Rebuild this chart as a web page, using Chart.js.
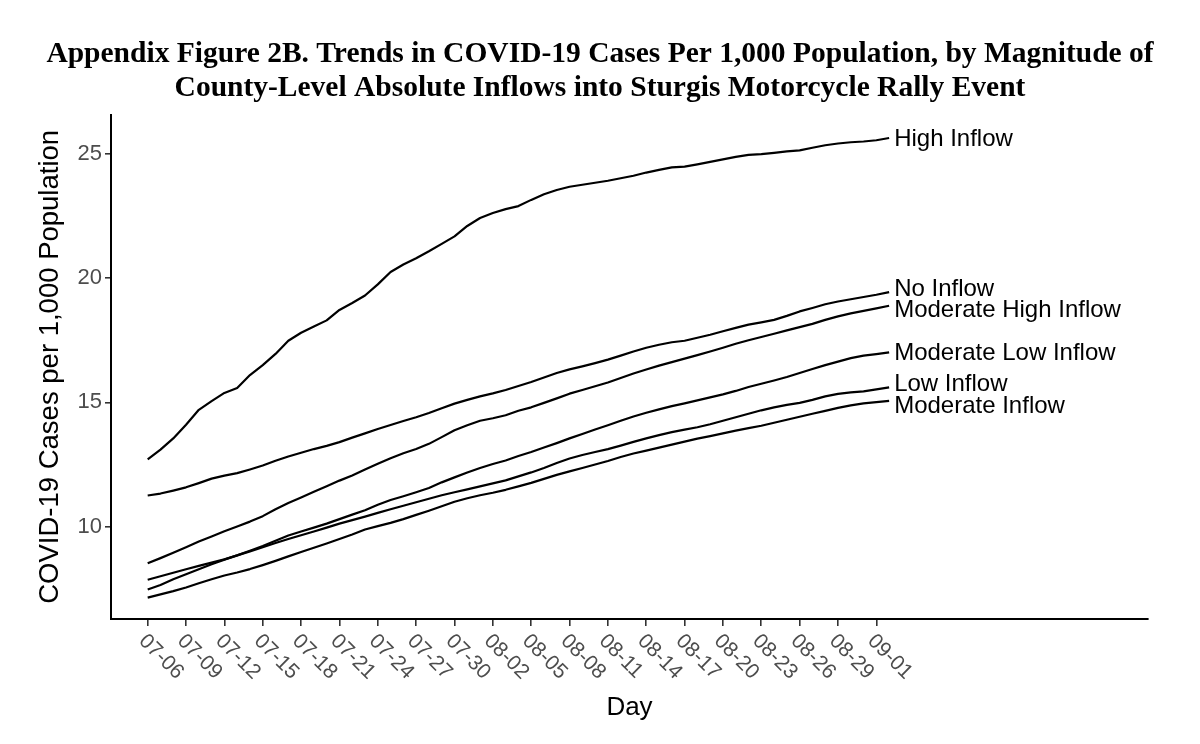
<!DOCTYPE html>
<html><head><meta charset="utf-8">
<script src="https://cdn.jsdelivr.net/npm/chart.js@4.4.1/dist/chart.umd.min.js"></script>
<style>html,body{margin:0;padding:0;background:#fff;}canvas{display:block;}</style>
</head><body>
<canvas id="c" width="1200" height="744"></canvas>
<script>
const days = ["07-06","07-07","07-08","07-09","07-10","07-11","07-12","07-13","07-14","07-15","07-16","07-17","07-18","07-19","07-20","07-21","07-22","07-23","07-24","07-25","07-26","07-27","07-28","07-29","07-30","07-31",
"08-01","08-02","08-03","08-04","08-05","08-06","08-07","08-08","08-09","08-10","08-11","08-12","08-13","08-14","08-15","08-16","08-17","08-18","08-19","08-20","08-21","08-22","08-23","08-24","08-25","08-26","08-27","08-28","08-29","08-30","08-31",
"09-01","09-02"];
const tickLabels = ["07-06","07-09","07-12","07-15","07-18","07-21","07-24","07-27","07-30","08-02","08-05","08-08","08-11","08-14","08-17","08-20","08-23","08-26","08-29","09-01"];
const yTicks = [10, 15, 20, 25];
const seriesNames = ["High Inflow","No Inflow","Moderate High Inflow","Moderate Low Inflow","Low Inflow","Moderate Inflow"];

const highInflow = [12.71,13.10,13.55,14.10,14.70,15.05,15.38,15.58,16.10,16.50,16.95,17.48,17.80,18.05,18.30,18.72,19.00,19.30,19.75,20.25,20.55,20.80,21.08,21.38,21.68,22.10,22.42,22.62,22.78,22.90,23.15,23.38,23.55,23.68,23.76,23.84,23.92,24.02,24.12,24.25,24.36,24.46,24.49,24.58,24.68,24.78,24.88,24.96,24.99,25.04,25.10,25.14,25.25,25.35,25.42,25.47,25.50,25.55,25.64];
const noInflow = [11.25,11.33,11.45,11.58,11.75,11.93,12.05,12.15,12.30,12.46,12.65,12.82,12.97,13.12,13.25,13.40,13.58,13.75,13.93,14.09,14.25,14.40,14.57,14.76,14.95,15.10,15.24,15.36,15.50,15.66,15.82,16.00,16.18,16.33,16.45,16.58,16.72,16.88,17.05,17.20,17.32,17.42,17.48,17.60,17.72,17.86,18.00,18.13,18.22,18.32,18.48,18.66,18.80,18.95,19.06,19.15,19.24,19.33,19.44];
const moderateHighInflow = [8.52,8.73,8.95,9.17,9.40,9.60,9.81,10.00,10.20,10.42,10.70,10.95,11.17,11.40,11.62,11.85,12.06,12.30,12.53,12.75,12.95,13.12,13.33,13.60,13.88,14.08,14.26,14.36,14.48,14.66,14.80,14.98,15.16,15.35,15.50,15.65,15.80,15.98,16.16,16.32,16.48,16.62,16.76,16.90,17.05,17.20,17.36,17.50,17.63,17.76,17.90,18.03,18.16,18.32,18.46,18.58,18.68,18.78,18.89];
const moderateLowInflow = [7.47,7.65,7.88,8.08,8.28,8.48,8.67,8.84,9.03,9.22,9.43,9.64,9.80,9.96,10.12,10.30,10.48,10.66,10.88,11.07,11.22,11.38,11.55,11.78,11.98,12.18,12.36,12.52,12.66,12.84,13.00,13.18,13.36,13.55,13.73,13.91,14.08,14.26,14.43,14.58,14.72,14.85,14.96,15.08,15.20,15.32,15.46,15.62,15.75,15.88,16.02,16.18,16.34,16.50,16.64,16.78,16.88,16.94,17.01];
const lowInflow = [7.86,8.00,8.14,8.28,8.42,8.55,8.68,8.84,9.00,9.17,9.34,9.50,9.65,9.80,9.96,10.12,10.26,10.40,10.55,10.70,10.84,10.98,11.12,11.26,11.38,11.50,11.62,11.74,11.86,12.02,12.18,12.36,12.56,12.74,12.88,13.00,13.12,13.26,13.41,13.55,13.68,13.80,13.90,14.00,14.12,14.26,14.40,14.54,14.68,14.80,14.90,14.98,15.10,15.24,15.34,15.40,15.44,15.52,15.60];
const moderateInflow = [7.14,7.27,7.40,7.55,7.72,7.88,8.03,8.15,8.29,8.45,8.62,8.80,8.98,9.15,9.32,9.50,9.68,9.88,10.02,10.15,10.30,10.47,10.64,10.82,11.00,11.14,11.26,11.36,11.48,11.62,11.76,11.92,12.08,12.22,12.36,12.50,12.64,12.80,12.94,13.06,13.18,13.30,13.42,13.54,13.64,13.75,13.86,13.96,14.06,14.18,14.30,14.42,14.54,14.66,14.78,14.88,14.96,15.01,15.06];

const seriesValues = [highInflow, noInflow, moderateHighInflow, moderateLowInflow, lowInflow, moderateInflow];

const SANS = '"Liberation Sans", Arial, Helvetica, sans-serif';

const centerTitlePlugin = {
  id: 'centerTitle',
  afterLayout(chart) {
    const t = chart.titleBlock;
    if (t) { t.left = 0; t.right = chart.width; t.width = chart.width; }
  }
};

const xLabelPlugin = {
  id: 'xLabels',
  afterDraw(chart) {
    const xs = chart.scales.x, ctx = chart.ctx;
    ctx.save();
    ctx.font = '21px ' + SANS;
    ctx.fillStyle = '#4d4d4d';
    ctx.textAlign = 'left';
    ctx.textBaseline = 'middle';
    tickLabels.forEach(l => {
      const px = xs.getPixelForValue(days.indexOf(l));
      ctx.save();
      ctx.translate(px - 5.5, xs.top + 19);
      ctx.rotate(Math.PI / 4);
      ctx.fillText(l, 0, 0);
      ctx.restore();
    });
    ctx.restore();
  }
};

const endLabelPlugin = {
  id: 'endLabels',
  afterDatasetsDraw(chart) {
    const ctx = chart.ctx, xs = chart.scales.x, ys = chart.scales.y;
    const items = chart.data.datasets.map(ds => {
      const last = ds.data[ds.data.length - 1];
      return { text: ds.label, x: xs.getPixelForValue(last.x), y: ys.getPixelForValue(last.y) };
    }).sort((a, b) => a.y - b.y);
    const gap = 21.5;
    for (let iter = 0; iter < 30; iter++) {
      for (let i = 1; i < items.length; i++) {
        const d = items[i].y - items[i - 1].y;
        if (d < gap) { const s = (gap - d) / 2; items[i - 1].y -= s; items[i].y += s; }
      }
    }
    ctx.save();
    ctx.font = '24px ' + SANS;
    ctx.fillStyle = '#000';
    ctx.textAlign = 'left';
    ctx.textBaseline = 'middle';
    items.forEach(it => ctx.fillText(it.text, it.x + 5, it.y + 1));
    ctx.restore();
  }
};

new Chart(document.getElementById('c'), {
  type: 'line',
  data: {
    datasets: seriesNames.map((n, i) => ({
      label: n,
      data: seriesValues[i].map((v, j) => ({ x: j, y: v })),
      borderColor: '#000',
      borderWidth: 2.2,
      pointRadius: 0,
      fill: false,
      tension: 0,
      borderJoinStyle: 'round',
      borderCapStyle: 'butt'
    }))
  },
  plugins: [centerTitlePlugin, xLabelPlugin, endLabelPlugin],
  options: {
    responsive: false,
    animation: false,
    events: [],
    layout: { padding: { left: 0, right: 52, top: 0, bottom: 0 } },
    plugins: {
      legend: { display: false },
      tooltip: { enabled: false },
      title: {
        display: true,
        text: ["Appendix Figure 2B. Trends in COVID-19 Cases Per 1,000 Population, by Magnitude of",
               "County-Level Absolute Inflows into Sturgis Motorcycle Rally Event"],
        font: { family: '"Liberation Serif", "Times New Roman", serif', size: 29.5, weight: 'bold', lineHeight: 1.13 },
        color: '#000',
        padding: { top: 38, bottom: 10 }
      }
    },
    scales: {
      x: {
        type: 'linear',
        min: -2.87,
        max: 78.25,
        afterBuildTicks: s => { s.ticks = tickLabels.map(l => ({ value: days.indexOf(l) })); },
        afterFit: s => { s.height = 125; },
        ticks: { display: false },
        grid: { drawOnChartArea: false, drawTicks: true, tickLength: 7, color: '#333', lineWidth: 1.6 },
        border: { display: true, color: '#000', width: 2 },
        title: { display: true, text: 'Day', font: { family: SANS, size: 26 }, color: '#000', padding: { top: 0, bottom: 21 } }
      },
      y: {
        min: 6.28,
        max: 26.58,
        afterBuildTicks: s => { s.ticks = yTicks.map(v => ({ value: v })); },
        afterFit: s => { s.width = 111; },
        ticks: { font: { family: SANS, size: 22 }, color: '#4d4d4d', padding: 3 },
        grid: { drawOnChartArea: false, drawTicks: true, tickLength: 6, color: '#333', lineWidth: 1.6 },
        border: { display: true, color: '#000', width: 2 },
        title: { display: true, text: 'COVID-19 Cases per 1,000 Population', font: { family: SANS, size: 27.5 }, color: '#000', padding: { top: 34, bottom: 0 } }
      }
    }
  }
});
</script>
</body></html>
